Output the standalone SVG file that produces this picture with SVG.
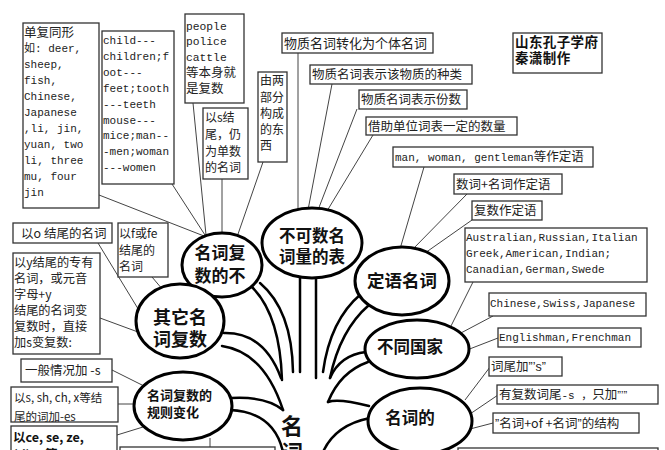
<svg xmlns="http://www.w3.org/2000/svg" width="665" height="450" viewBox="0 0 665 450">
<style>
.box{fill:#fff;stroke:#333;stroke-width:1.3}
.ell{fill:#fff;stroke:#000;stroke-width:3}
.con{stroke:#444;stroke-width:1;fill:none}
.br{stroke:#000;stroke-width:2.5;fill:none;stroke-linecap:round}
.t{font-family:"Noto Sans CJK SC",sans-serif;font-size:12.5px;fill:#222}
.m{font-family:"Liberation Mono","Noto Sans CJK SC",monospace;font-size:11px;fill:#222}
.c{font-family:"Noto Sans CJK SC",sans-serif;font-size:12.5px}
.q{font-family:"Liberation Sans",sans-serif}
.e{font-family:"Noto Sans CJK SC",sans-serif;font-weight:bold;fill:#111;text-anchor:middle}
</style>
<rect width="665" height="450" fill="#fff"/>
<g id="connectors">
<line class="con" x1="99" y1="195" x2="204" y2="236"/>
<line class="con" x1="172" y1="184" x2="205" y2="235"/>
<line class="con" x1="193" y1="103" x2="206" y2="235"/>
<line class="con" x1="222" y1="179" x2="222" y2="235"/>
<line class="con" x1="263" y1="162" x2="237" y2="237"/>
<line class="con" x1="298" y1="53" x2="298" y2="210"/>
<line class="con" x1="332" y1="84" x2="308" y2="210"/>
<line class="con" x1="357" y1="109" x2="318" y2="210"/>
<line class="con" x1="373" y1="135" x2="327" y2="211"/>
<line class="con" x1="424" y1="167" x2="400" y2="249"/>
<line class="con" x1="467" y1="194" x2="412" y2="250"/>
<line class="con" x1="472" y1="220" x2="425" y2="253"/>
<line class="con" x1="473" y1="282" x2="450" y2="328"/>
<line class="con" x1="493" y1="316" x2="459" y2="334"/>
<line class="con" x1="498" y1="338" x2="467" y2="350"/>
<line class="con" x1="490" y1="367" x2="465" y2="400"/>
<line class="con" x1="498" y1="395" x2="470" y2="414"/>
<line class="con" x1="493" y1="423" x2="470" y2="429"/>
<line class="con" x1="98" y1="243" x2="140" y2="312"/>
<line class="con" x1="152" y1="277" x2="163" y2="290"/>
<line class="con" x1="100" y1="318" x2="138" y2="332"/>
<line class="con" x1="112" y1="370" x2="144" y2="386"/>
<line class="con" x1="118" y1="404" x2="136" y2="404"/>
<line class="con" x1="117" y1="435" x2="143" y2="427"/>
<line class="con" x1="210" y1="438" x2="210" y2="450"/>
</g>
<g id="trunk">
<path class="br" d="M252 287 Q280 315 282 380"/>
<path class="br" d="M260 283 Q292 310 293 372"/>
<path class="br" d="M300 276 L300 372"/>
<path class="br" d="M316 276 L316 378"/>
<path class="br" d="M224 333 Q264 332 281 378"/>
<path class="br" d="M222 346 Q264 352 283 410"/>
<path class="br" d="M231 398 Q266 396 283 410"/>
<path class="br" d="M230 410 Q274 412 283 452"/>
<path class="br" d="M361 294 Q330 320 323 372"/>
<path class="br" d="M369 305 Q340 330 330 378"/>
<path class="br" d="M366 352 Q340 355 330 378"/>
<path class="br" d="M368 362 Q340 372 328 402"/>
<path class="br" d="M369 406 Q338 398 328 402"/>
<path class="br" d="M370 418 Q335 425 323 452"/>
<text class="e" x="292" y="434" font-size="22">名</text>
<text class="e" x="292" y="461" font-size="22">词</text>
</g>
<g id="n-tongxing">
<rect class="box" x="23" y="23" width="76" height="185"/>
<text class="m" x="24"><tspan x="24" y="36.5" class="c">单复同形</tspan><tspan x="24" y="52.4">如: deer,</tspan><tspan x="24" y="68.3">sheep,</tspan><tspan x="24" y="84.2">fish,</tspan><tspan x="24" y="100.1">Chinese,</tspan><tspan x="24" y="116">Japanese</tspan><tspan x="24" y="131.9">,li, jin,</tspan><tspan x="24" y="147.8">yuan, two</tspan><tspan x="24" y="163.7">li, three</tspan><tspan x="24" y="179.6">mu, four</tspan><tspan x="24" y="195.5">jin</tspan></text>
</g>
<g id="n-child">
<rect class="box" x="102" y="31" width="72" height="153"/>
<text class="m"><tspan x="103" y="44">child---</tspan><tspan x="103" y="59.9">children;f</tspan><tspan x="103" y="75.8">oot---</tspan><tspan x="103" y="91.7">feet;tooth</tspan><tspan x="103" y="107.6">---teeth</tspan><tspan x="103" y="123.5">mouse---</tspan><tspan x="103" y="139.4">mice;man--</tspan><tspan x="103" y="155.3">-men;woman</tspan><tspan x="103" y="171.2">---women</tspan></text>
</g>
<g id="n-people">
<rect class="box" x="185" y="14" width="59" height="89"/>
<text class="m" style="font-size:11.3px"><tspan x="186" y="29.5">people</tspan><tspan x="186" y="45">police</tspan><tspan x="186" y="60.5">cattle</tspan><tspan x="186" y="77" class="c">等本身就</tspan><tspan x="186" y="93" class="c">是复数</tspan></text>
</g>
<g id="n-s">
<rect class="box" x="203" y="108" width="45" height="71"/>
<text class="t" style="font-size:12px"><tspan x="205" y="122">以s结</tspan><tspan x="205" y="139">尾，仍</tspan><tspan x="205" y="156">为单数</tspan><tspan x="205" y="172">的名词</tspan></text>
</g>
<g id="n-liangbufen">
<rect class="box" x="258" y="72" width="29" height="90"/>
<text class="t" style="font-size:12px"><tspan x="260" y="85">由两</tspan><tspan x="260" y="102">部分</tspan><tspan x="260" y="118">构成</tspan><tspan x="260" y="134">的东</tspan><tspan x="260" y="150">西</tspan></text>
</g>
<g id="n-wz1">
<rect class="box" x="282" y="33" width="151" height="20"/>
<text class="t" x="284" y="48" style="font-size:13px">物质名词转化为个体名词</text>
</g>
<g id="n-wz2">
<rect class="box" x="310" y="65" width="162" height="19"/>
<text class="t" x="312" y="79">物质名词表示该物质的种类</text>
</g>
<g id="n-wz3">
<rect class="box" x="359" y="90" width="108" height="19"/>
<text class="t" x="361" y="104">物质名词表示份数</text>
</g>
<g id="n-wz4">
<rect class="box" x="366" y="117" width="151" height="18"/>
<text class="t" x="368" y="131">借助单位词表一定的数量</text>
</g>
<g id="n-man">
<rect class="box" x="393" y="147" width="200" height="20"/>
<text class="m" x="395" y="161">man, woman, gentleman<tspan class="c">等作定语</tspan></text>
</g>
<g id="n-shuci">
<rect class="box" x="454" y="174" width="108" height="20"/>
<text class="t" x="456" y="189">数词+名词作定语</text>
</g>
<g id="n-fushu">
<rect class="box" x="472" y="201" width="70" height="19"/>
<text class="t" x="474" y="215">复数作定语</text>
</g>
<g id="n-australian">
<rect class="box" x="465" y="228" width="182" height="54"/>
<text class="m"><tspan x="466" y="241">Australian,Russian,Italian</tspan><tspan x="466" y="257">Greek,American,Indian;</tspan><tspan x="466" y="273">Canadian,German,Swede</tspan></text>
</g>
<g id="n-chinese">
<rect class="box" x="489" y="293" width="157" height="23"/>
<text class="m" x="490" y="307">Chinese,Swiss,Japanese</text>
</g>
<g id="n-english">
<rect class="box" x="498" y="328" width="143" height="19"/>
<text class="m" x="499" y="341">Englishman,Frenchman</text>
</g>
<g id="n-ciwei">
<rect class="box" x="489" y="357" width="73" height="19"/>
<text class="t" x="491" y="371">词尾加<tspan class="q">”’s”</tspan></text>
</g>
<g id="n-youfushu">
<rect class="box" x="497" y="385" width="161" height="19"/>
<text class="m" x="499" y="399"><tspan class="c">有复数词尾</tspan>-s ，<tspan class="c">只加</tspan><tspan class="q">”’”</tspan></text>
</g>
<g id="n-of">
<rect class="box" x="493" y="413" width="146" height="20"/>
<text class="t" x="495" y="428"><tspan class="q">”</tspan>名词+of +名词<tspan class="q">”</tspan>的结构</text>
</g>
<g id="n-bottomright">
<rect class="box" x="458" y="448" width="200" height="20"/>
</g>
<g id="n-author">
<rect class="box" x="513" y="33" width="89" height="40"/>
<text class="t" style="font-size:13.5px;font-weight:bold;fill:#111;letter-spacing:0.4px"><tspan x="515" y="47">山东孔子学府</tspan><tspan x="515" y="63">秦潇制作</tspan></text>
</g>
<g id="n-o">
<rect class="box" x="13" y="223" width="99" height="20"/>
<text class="t" x="21" y="238">以o 结尾的名词</text>
</g>
<g id="n-f">
<rect class="box" x="118" y="223" width="50" height="54"/>
<text class="t" style="font-size:12px"><tspan x="119" y="238">以f或fe</tspan><tspan x="119" y="255">结尾的</tspan><tspan x="119" y="271">名词</tspan></text>
</g>
<g id="n-y">
<rect class="box" x="13" y="253" width="87" height="101"/>
<text class="t" style="font-size:12.2px"><tspan x="14" y="267">以y结尾的专有</tspan><tspan x="14" y="283">名词，或元音</tspan><tspan x="14" y="299">字母+y</tspan><tspan x="14" y="315">结尾的名词变</tspan><tspan x="14" y="331">复数时，直接</tspan><tspan x="14" y="347">加s变复数:</tspan></text>
</g>
<g id="n-yiban">
<rect class="box" x="21" y="359" width="91" height="23"/>
<text class="t" x="25" y="375">一般情况加 -s</text>
</g>
<g id="n-es">
<rect class="box" x="11" y="387" width="107" height="35"/>
<text class="t" style="font-size:11.5px"><tspan x="14" y="402">以s, sh, ch, x等结</tspan><tspan x="14" y="421">尾的词加-es</tspan></text>
</g>
<g id="n-ce">
<rect class="box" x="11" y="426" width="106" height="30"/>
<text class="t" style="font-weight:bold;font-size:12.5px;fill:#111"><tspan x="13" y="442">以ce, se, ze,</tspan><tspan x="13" y="459">(d)ge等</tspan></text>
</g>
<g id="n-table">
<rect class="box" x="120" y="447" width="155" height="20"/>
</g>
<g id="e-bubu">
<ellipse class="ell" cx="222" cy="265" rx="40" ry="32"/>
<text class="e" font-size="17"><tspan x="220" y="258.5">名词复</tspan><tspan x="220" y="281.5">数的不</tspan></text>
</g>
<g id="e-bukeshu">
<ellipse class="ell" cx="312" cy="243" rx="50" ry="35"/>
<text class="e" font-size="16.5"><tspan x="312" y="241.5">不可数名</tspan><tspan x="312" y="262.5">词量的表</tspan></text>
</g>
<g id="e-dingyu">
<ellipse class="ell" cx="402" cy="281" rx="47" ry="34"/>
<text class="e" font-size="17.5" x="402" y="287">定语名词</text>
</g>
<g id="e-qita">
<ellipse class="ell" cx="180" cy="321" rx="44" ry="37"/>
<text class="e" font-size="18"><tspan x="180" y="324">其它名</tspan><tspan x="180" y="346">词复数</tspan></text>
</g>
<g id="e-guize">
<ellipse class="ell" cx="183" cy="406" rx="49" ry="34"/>
<text class="e" font-size="13" style="text-anchor:start"><tspan x="147" y="400">名词复数的</tspan><tspan x="147" y="417">规则变化</tspan></text>
</g>
<g id="e-guojia">
<ellipse class="ell" cx="417" cy="349" rx="52" ry="29"/>
<text class="e" font-size="16.5" x="410" y="353">不同国家</text>
</g>
<g id="e-de">
<ellipse class="ell" cx="420" cy="421" rx="52" ry="33"/>
<text class="e" font-size="16.5" x="410" y="424">名词的</text>
</g>
</svg>
